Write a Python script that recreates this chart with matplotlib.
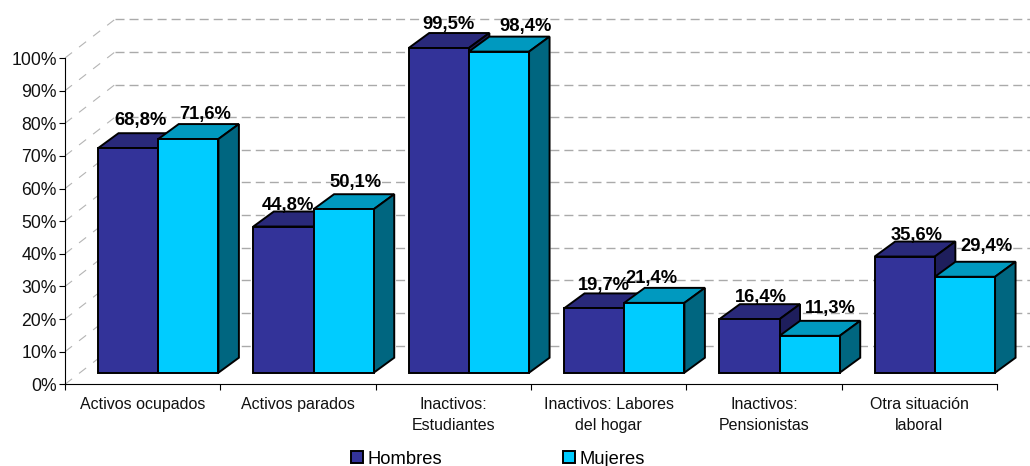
import matplotlib
matplotlib.use('Agg')
import matplotlib.pyplot as plt
from matplotlib.patches import Polygon, Patch

plt.rcParams['font.family'] = ['Liberation Sans', 'DejaVu Sans']

categories = ['Activos ocupados', 'Activos parados', 'Inactivos:\nEstudiantes',
              'Inactivos: Labores\ndel hogar', 'Inactivos:\nPensionistas',
              'Otra situación\nlaboral']
hombres = [68.8, 44.8, 99.5, 19.7, 16.4, 35.6]
mujeres = [71.6, 50.1, 98.4, 21.4, 11.3, 29.4]
yticks = [0, 10, 20, 30, 40, 50, 60, 70, 80, 90, 100]

# label nudges in pixels, (dx, dy) from the middle of the bar top
hombres_off = [(12, 28), (5, 21), (10, 24), (10, 23), (11, 22), (12, 21)]
mujeres_off = [(17, 25), (12, 27), (27, 25), (-3, 24), (21, 27), (22, 30)]

W, H = 1030, 466
fig = plt.figure(figsize=(W / 100, H / 100), dpi=100)
# plot box in pixels: x 65..997, y 58..384 from the top
ax = fig.add_axes([65 / W, 1 - 384.3 / H, 932 / W, 326.3 / H])
ax.set_xlim(0, 6)
ax.set_ylim(0, 100)

px_x = 932 / 6      # pixels per category
px_y = 326.3 / 100  # pixels per percent

wall_dx = 50 / px_x
wall_dy = 38.7 / px_y
floor_y = 11.6 / px_y
bar_x = 33 / px_x
bar_w = 60.2 / px_x
depth_x = 20.5 / px_x
depth_y = 15 / px_y
edge = 1.4

# walls
for t in yticks:
    ax.plot([0, wall_dx], [t, t + wall_dy], color='#b4b4b4', lw=0.8,
            dashes=(8, 8), clip_on=False, zorder=1)
    ax.plot([wall_dx, 6.5], [t + wall_dy, t + wall_dy], color='#aaaaaa', lw=1.0,
            dashes=(6.5, 3.6), clip_on=False, zorder=1)


def draw_bar(x, value, front, top, side, z):
    ax.bar(x, value, bar_w, bottom=floor_y, align='edge', color=front,
           edgecolor='black', linewidth=edge, zorder=z + 0.2, clip_on=False)
    y1 = floor_y + value
    ax.add_patch(Polygon([(x, y1), (x + depth_x, y1 + depth_y),
                          (x + bar_w + depth_x, y1 + depth_y), (x + bar_w, y1)],
                         facecolor=top, edgecolor='black', lw=edge, zorder=z,
                         clip_on=False))
    ax.add_patch(Polygon([(x + bar_w, floor_y), (x + bar_w + depth_x, floor_y + depth_y),
                          (x + bar_w + depth_x, y1 + depth_y), (x + bar_w, y1)],
                         facecolor=side, edgecolor='black', lw=edge, zorder=z,
                         clip_on=False))


for i in range(len(categories)):
    x1 = i + bar_x
    x2 = x1 + bar_w
    draw_bar(x1, hombres[i], '#333399', '#29297A', '#1E1E5C', 3)
    draw_bar(x2, mujeres[i], '#00CCFF', '#0099BF', '#006680', 4)
    for x, v, off in ((x1, hombres[i], hombres_off[i]), (x2, mujeres[i], mujeres_off[i])):
        ax.annotate(f'{v:.1f}%'.replace('.', ','),
                    (x + bar_w / 2, floor_y + v), xytext=off, textcoords='offset pixels',
                    ha='center', va='center', fontsize=13.2, fontweight='bold',
                    color='black', zorder=10, annotation_clip=False)

for s in ('top', 'right'):
    ax.spines[s].set_visible(False)
ax.spines['left'].set_linewidth(0.8)
ax.spines['bottom'].set_linewidth(0.8)

ax.set_yticks(yticks)
ax.set_yticklabels([f'{t}%' for t in yticks], fontsize=12.7, color='#111111')
ax.tick_params(axis='y', length=4, width=0.8, pad=2)
ax.set_xticks(range(7))
ax.set_xticklabels([])
ax.tick_params(axis='x', length=4, width=0.8)
ax.set_xticks([i + 0.5 for i in range(6)], minor=True)
ax.set_xticklabels(categories, minor=True, fontsize=11.5, linespacing=1.5, color='#111111')
ax.tick_params(axis='x', which='minor', length=0, pad=9)

handles = [Patch(facecolor='#333399', edgecolor='black', lw=edge, label='Hombres'),
           Patch(facecolor='#00CCFF', edgecolor='black', lw=edge, label='Mujeres')]
fig.legend(handles=handles, loc='lower left', bbox_to_anchor=(338 / W, -0.031), ncol=2,
           frameon=False, fontsize=13.2, handlelength=0.65, handleheight=0.65,
           handletextpad=0.25, columnspacing=6.6, borderpad=0.2)

fig.savefig('out.png', dpi=100)
